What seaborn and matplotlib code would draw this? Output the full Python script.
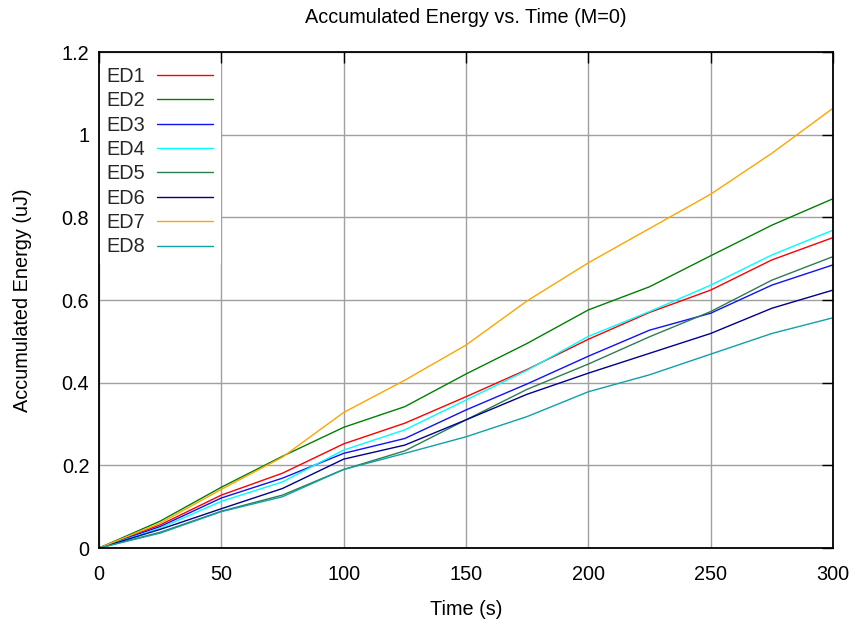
import matplotlib
matplotlib.use("Agg")
import matplotlib.pyplot as plt
import seaborn as sns
import pandas as pd

# ---- data ----
time_s = [0, 25, 50, 75, 100, 125, 150, 175, 200, 225, 250, 275, 300]
ed1 = [0, 0.056, 0.128, 0.181, 0.252, 0.302, 0.366, 0.432, 0.505, 0.570, 0.624, 0.697, 0.751]
ed2 = [0, 0.065, 0.147, 0.222, 0.292, 0.342, 0.421, 0.495, 0.576, 0.632, 0.707, 0.781, 0.845]
ed3 = [0, 0.052, 0.121, 0.169, 0.229, 0.265, 0.334, 0.397, 0.464, 0.527, 0.568, 0.636, 0.685]
ed4 = [0, 0.048, 0.113, 0.160, 0.237, 0.286, 0.358, 0.430, 0.512, 0.572, 0.636, 0.709, 0.769]
ed5 = [0, 0.038, 0.089, 0.128, 0.190, 0.235, 0.310, 0.384, 0.445, 0.511, 0.572, 0.648, 0.705]
ed6 = [0, 0.045, 0.095, 0.144, 0.215, 0.249, 0.310, 0.372, 0.423, 0.471, 0.519, 0.580, 0.624]
ed7 = [0, 0.060, 0.142, 0.220, 0.328, 0.406, 0.491, 0.598, 0.690, 0.773, 0.856, 0.955, 1.064]
ed8 = [0, 0.036, 0.088, 0.124, 0.190, 0.229, 0.269, 0.318, 0.378, 0.419, 0.469, 0.519, 0.557]

series_names = ["ED1", "ED2", "ED3", "ED4", "ED5", "ED6", "ED7", "ED8"]
series_values = [ed1, ed2, ed3, ed4, ed5, ed6, ed7, ed8]
series_colors = ["#ff0000", "#008000", "#1010ff", "#00ffff",
                 "#2e7d4f", "#000090", "#ffa500", "#10a0a8"]

x_ticks = [0, 50, 100, 150, 200, 250, 300]
y_ticks = [0, 0.2, 0.4, 0.6, 0.8, 1.0, 1.2]
y_tick_labels = ["0", "0.2", "0.4", "0.6", "0.8", "1", "1.2"]

# ---- build long-form table ----
rows = []
for name, vals in zip(series_names, series_values):
    for t, v in zip(time_s, vals):
        rows.append({"Time": t, "Energy": v, "Series": name})
df = pd.DataFrame(rows)

sns.set_theme(style="white")
plt.rcParams['font.family'] = ['Liberation Sans', 'DejaVu Sans']

FS = 14.3
W, H = 856, 629
fig = plt.figure(figsize=(W / 100, H / 100), dpi=100)
ax_w = (833 - 99) / W
ax_h = (548 - 52) / H
ax = fig.add_axes([99 / W, 1 - 548 / H, ax_w, ax_h])

# grid (under lines and legend)
for xv in x_ticks:
    ax.axvline(xv, color="#a0a0a0", lw=1.0, zorder=0.5)
for yv in y_ticks:
    ax.axhline(yv, color="#a0a0a0", lw=1.0, zorder=0.5)

sns.lineplot(data=df, x="Time", y="Energy", hue="Series",
             palette=dict(zip(series_names, series_colors)),
             hue_order=series_names, linewidth=1.0, ax=ax, zorder=2)

ax.set_xlim(0, 300)
ax.set_ylim(0, 1.2)
ax.set_xticks(x_ticks)
ax.set_xticklabels([str(v) for v in x_ticks])
ax.set_yticks(y_ticks)
ax.set_yticklabels(y_tick_labels)
ax.tick_params(axis="both", direction="in", length=8, width=1, color="black",
               top=True, right=True, labelsize=FS, colors="black")
ax.tick_params(axis="x", pad=12.5)
ax.tick_params(axis="y", pad=7)
for sp in ax.spines.values():
    sp.set_color("black")
    sp.set_linewidth(1.3)
ax.set_axisbelow(False)

ax.set_xlabel("Time (s)", fontsize=FS, labelpad=11, color="black")
ax.set_ylabel("Accumulated Energy (uJ)", fontsize=FS, labelpad=21.5, color="black")
ax.set_title("Accumulated Energy vs. Time (M=0)", fontsize=FS, pad=21, color="black")

handles, labels = ax.get_legend_handles_labels()
leg = ax.legend(handles, labels, loc="upper left",
                bbox_to_anchor=(-1 / (ax_w * W), 1 - 7 / (ax_h * H)),
                borderaxespad=0, markerfirst=False, frameon=True,
                facecolor="white", framealpha=1, fancybox=False,
                fontsize=FS, handlelength=2.86, handletextpad=0.6,
                labelspacing=0.27, borderpad=0.4)
leg.get_frame().set_linewidth(0)
leg.set_zorder(2.4)

fig.savefig("out.png", dpi=100)
